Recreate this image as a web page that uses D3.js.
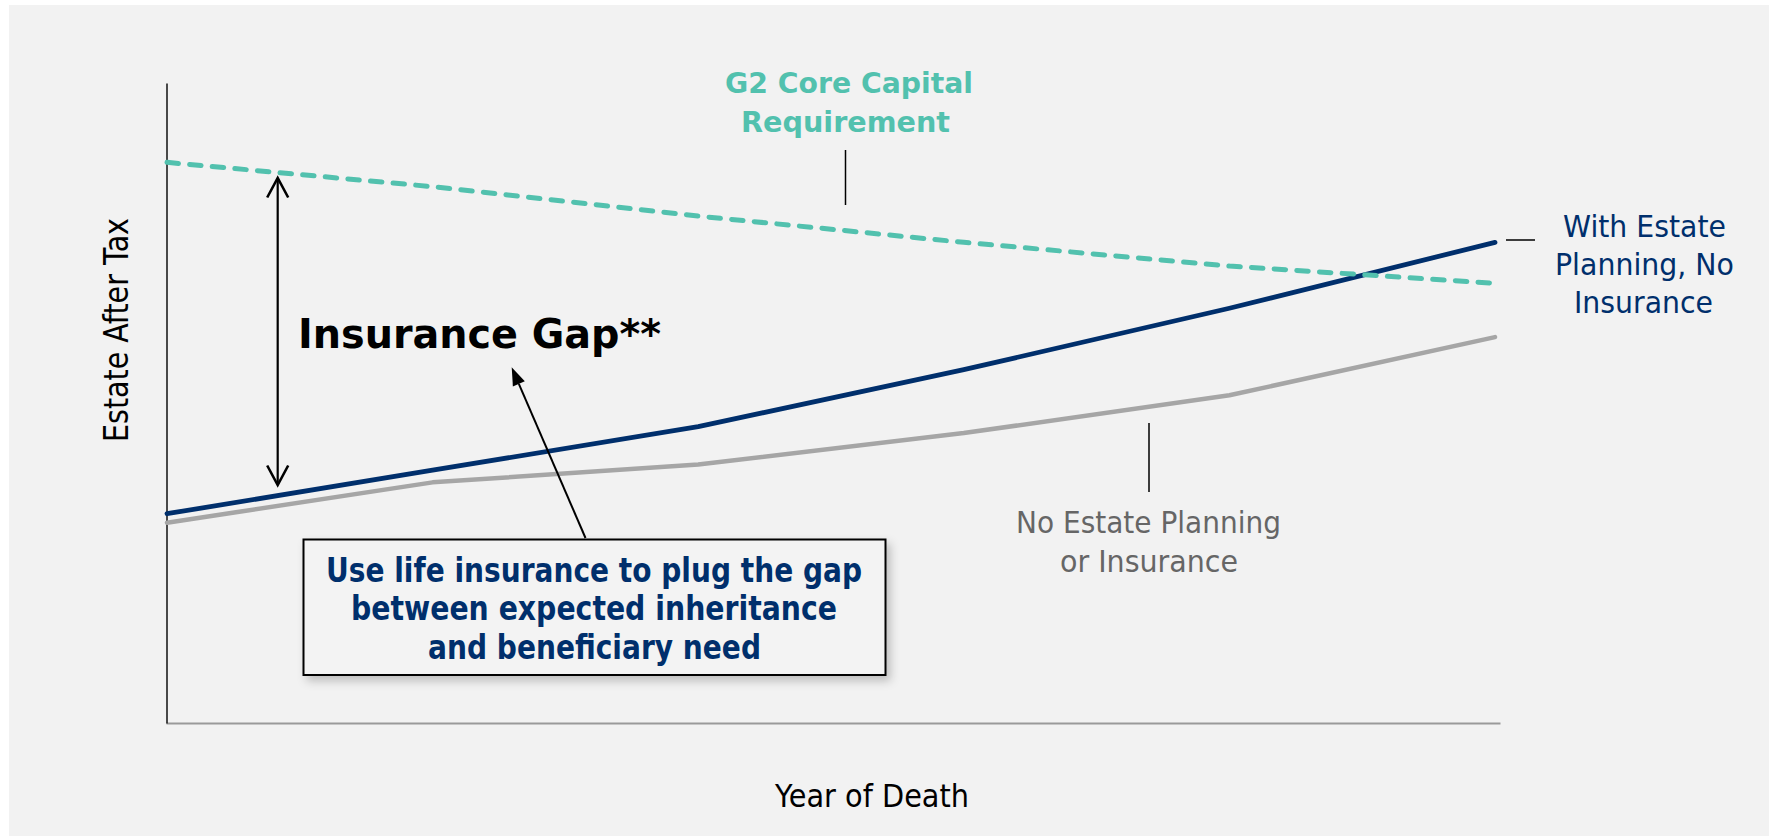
<!DOCTYPE html>
<html lang="en">
<head>
<meta charset="UTF-8">
<title>Estate After Tax</title>
<script src="https://d3js.org/d3.v7.min.js"></script>
<style>
  body { margin: 0; background: #ffffff; }
  svg { display: block; }
  text { font-family: "DejaVu Sans", Verdana, sans-serif; }
</style>
</head>
<body>
<script>

// data: six points along the year-of-death axis (no tick labels shown)
var years = [0, 1, 2, 3, 4, 5];
var coreCapital   = [87.6, 83.8, 79.2, 75.1, 71.4, 68.7];
var withPlanning  = [32.7, 39.5, 46.3, 55.2, 64.8, 75.1];
var noPlanning    = [31.3, 37.6, 40.4, 45.3, 51.2, 60.3];

var w = 1769, h = 836;
var teal = "#52c1ae", navy = "#002f6c", grey = "#a6a6a6";

var svg = d3.select("body").append("svg")
    .attr("width", w)
    .attr("height", h);

var defs = svg.append("defs");
var f = defs.append("filter").attr("id", "shadow")
    .attr("x", "-10%").attr("y", "-10%").attr("width", "130%").attr("height", "140%");
f.append("feDropShadow")
    .attr("dx", 4).attr("dy", 5).attr("stdDeviation", 5)
    .attr("flood-color", "#000").attr("flood-opacity", 0.22);

// panel
svg.append("rect")
    .attr("x", 9).attr("y", 5)
    .attr("width", w - 9).attr("height", h - 5)
    .attr("fill", "#f2f2f2");

var x = d3.scalePoint().domain(years).range([167, 1495]);
var y = d3.scaleLinear().domain([0, 100]).range([723, 83]);

// axes without ticks
svg.append("g")
    .attr("transform", "translate(0,723)")
    .call(d3.axisBottom(d3.scaleLinear().range([166, 1500])).tickValues([]).tickSizeOuter(0))
    .select(".domain").attr("stroke", "#9a9a9a").attr("stroke-width", 2);

svg.append("g")
    .attr("transform", "translate(166.5,0)")
    .call(d3.axisLeft(y).tickValues([]).tickSizeOuter(0))
    .select(".domain").attr("stroke", "#111").attr("stroke-width", 1.5);

var line = d3.line()
    .x(function (d, i) { return x(years[i]); })
    .y(function (d) { return y(d); });

svg.append("path")
    .datum(noPlanning)
    .attr("d", line)
    .attr("fill", "none")
    .attr("stroke", grey)
    .attr("stroke-width", 4.5)
    .attr("stroke-linecap", "round")
    .attr("stroke-linejoin", "round");

svg.append("path")
    .datum(withPlanning)
    .attr("d", line)
    .attr("fill", "none")
    .attr("stroke", navy)
    .attr("stroke-width", 4.8)
    .attr("stroke-linecap", "round")
    .attr("stroke-linejoin", "round");

svg.append("path")
    .datum(coreCapital)
    .attr("d", line)
    .attr("fill", "none")
    .attr("stroke", teal)
    .attr("stroke-width", 5)
    .attr("stroke-linecap", "round")
    .attr("stroke-dasharray", "11.5 11.2");

// helper for text squeezed to the measured width
function label(txt, x0, yb, size, len, color, weight) {
    return svg.append("text")
        .attr("x", x0)
        .attr("y", yb)
        .attr("font-size", size)
        .attr("font-weight", weight || "normal")
        .attr("fill", color)
        .attr("textLength", len)
        .attr("lengthAdjust", "spacingAndGlyphs")
        .text(txt);
}

// axis titles
label("Year of Death", 775, 807, 32, 194, "#000");
svg.append("text")
    .attr("transform", "translate(127.5,442) rotate(-90)")
    .attr("font-size", 33)
    .attr("fill", "#000")
    .attr("textLength", 224)
    .attr("lengthAdjust", "spacingAndGlyphs")
    .text("Estate After Tax");

// series labels
label("G2 Core Capital", 725, 93, 29, 248, teal, "bold");
label("Requirement", 741, 131.5, 29, 209, teal, "bold");
svg.append("line")
    .attr("x1", 845.5).attr("x2", 845.5).attr("y1", 150).attr("y2", 205)
    .attr("stroke", "#000").attr("stroke-width", 1.5);

label("With Estate", 1563, 237, 30, 163, navy);
label("Planning, No", 1555, 275, 30, 179, navy);
label("Insurance", 1574, 313, 30, 139, navy);
svg.append("line")
    .attr("x1", 1506).attr("x2", 1535).attr("y1", 240).attr("y2", 240)
    .attr("stroke", "#000").attr("stroke-width", 1.5);

label("No Estate Planning", 1016, 533, 30, 265, "#666666");
label("or Insurance", 1060, 572, 30, 178, "#666666");
svg.append("line")
    .attr("x1", 1149).attr("x2", 1149).attr("y1", 423).attr("y2", 492)
    .attr("stroke", "#000").attr("stroke-width", 1.5);

// insurance gap double arrow
var ax = 277.7, aTop = 178, aBot = 485;
svg.append("line")
    .attr("x1", ax).attr("x2", ax).attr("y1", aTop + 1).attr("y2", aBot - 1)
    .attr("stroke", "#000").attr("stroke-width", 2.2);
svg.append("path")
    .attr("d", "M" + (ax - 10.5) + "," + (aTop + 19.5) + "L" + ax + "," + aTop + "L" + (ax + 10.5) + "," + (aTop + 19.5))
    .attr("fill", "none").attr("stroke", "#000").attr("stroke-width", 2.6);
svg.append("path")
    .attr("d", "M" + (ax - 10.5) + "," + (aBot - 19.5) + "L" + ax + "," + aBot + "L" + (ax + 10.5) + "," + (aBot - 19.5))
    .attr("fill", "none").attr("stroke", "#000").attr("stroke-width", 2.6);

label("Insurance Gap**", 298, 348, 40, 363, "#000", "bold");

// callout box
svg.append("rect")
    .attr("x", 303.5).attr("y", 539.5)
    .attr("width", 582).attr("height", 135.5)
    .attr("fill", "#f3f3f3")
    .attr("stroke", "#000")
    .attr("stroke-width", 2)
    .attr("filter", "url(#shadow)");

label("Use life insurance to plug the gap", 326, 582, 33, 536, navy, "bold");
label("between expected inheritance", 351, 620, 33, 486, navy, "bold");
label("and beneficiary need", 428, 658.5, 33, 333, navy, "bold");

// arrow from box to the gap
var sx = 585.5, sy = 538, tx = 511.7, ty = 367.3;
var ang = Math.atan2(ty - sy, tx - sx);
var hl = 18, hw = 6.5;
var bx = tx - hl * Math.cos(ang), by = ty - hl * Math.sin(ang);
svg.append("line")
    .attr("x1", sx).attr("y1", sy).attr("x2", bx).attr("y2", by)
    .attr("stroke", "#000").attr("stroke-width", 2);
svg.append("path")
    .attr("d", "M" + tx + "," + ty +
        "L" + (bx + hw * Math.sin(ang)) + "," + (by - hw * Math.cos(ang)) +
        "L" + (bx - hw * Math.sin(ang)) + "," + (by + hw * Math.cos(ang)) + "Z")
    .attr("fill", "#000");

</script>
</body>
</html>
